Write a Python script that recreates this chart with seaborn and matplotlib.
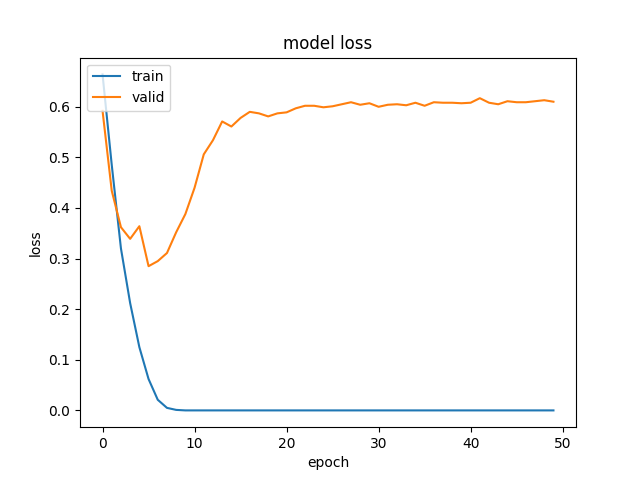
import numpy as np
import pandas as pd
import matplotlib
matplotlib.use("Agg")
import matplotlib.pyplot as plt
import seaborn as sns

# loss history
train_loss = [0.664, 0.485, 0.320, 0.212, 0.125, 0.062, 0.021, 0.005, 0.001, 0.0,
              0.0, 0.0, 0.0, 0.0, 0.0, 0.0, 0.0, 0.0, 0.0, 0.0,
              0.0, 0.0, 0.0, 0.0, 0.0, 0.0, 0.0, 0.0, 0.0, 0.0,
              0.0, 0.0, 0.0, 0.0, 0.0, 0.0, 0.0, 0.0, 0.0, 0.0,
              0.0, 0.0, 0.0, 0.0, 0.0, 0.0, 0.0, 0.0, 0.0, 0.0]
valid_loss = [0.592, 0.434, 0.362, 0.339, 0.364, 0.285, 0.295, 0.311, 0.352, 0.388,
              0.440, 0.506, 0.534, 0.571, 0.561, 0.578, 0.590, 0.587, 0.581, 0.587,
              0.589, 0.597, 0.602, 0.602, 0.599, 0.601, 0.605, 0.609, 0.604, 0.607,
              0.600, 0.604, 0.605, 0.603, 0.608, 0.602, 0.609, 0.608, 0.608, 0.607,
              0.608, 0.617, 0.608, 0.605, 0.611, 0.609, 0.609, 0.611, 0.613, 0.610]
epochs = np.arange(len(train_loss))

df = pd.DataFrame({"epoch": epochs, "train": train_loss, "valid": valid_loss})

fig, ax = plt.subplots(figsize=(6.4, 4.8), dpi=100)
sns.lineplot(data=df, x="epoch", y="train", label="train", color="#1f77b4", ax=ax)
sns.lineplot(data=df, x="epoch", y="valid", label="valid", color="#ff7f0e", ax=ax)
ax.set_title("model loss")
ax.set_xlabel("epoch")
ax.set_ylabel("loss")
ax.legend(loc="upper left")
plt.savefig("out.png")
